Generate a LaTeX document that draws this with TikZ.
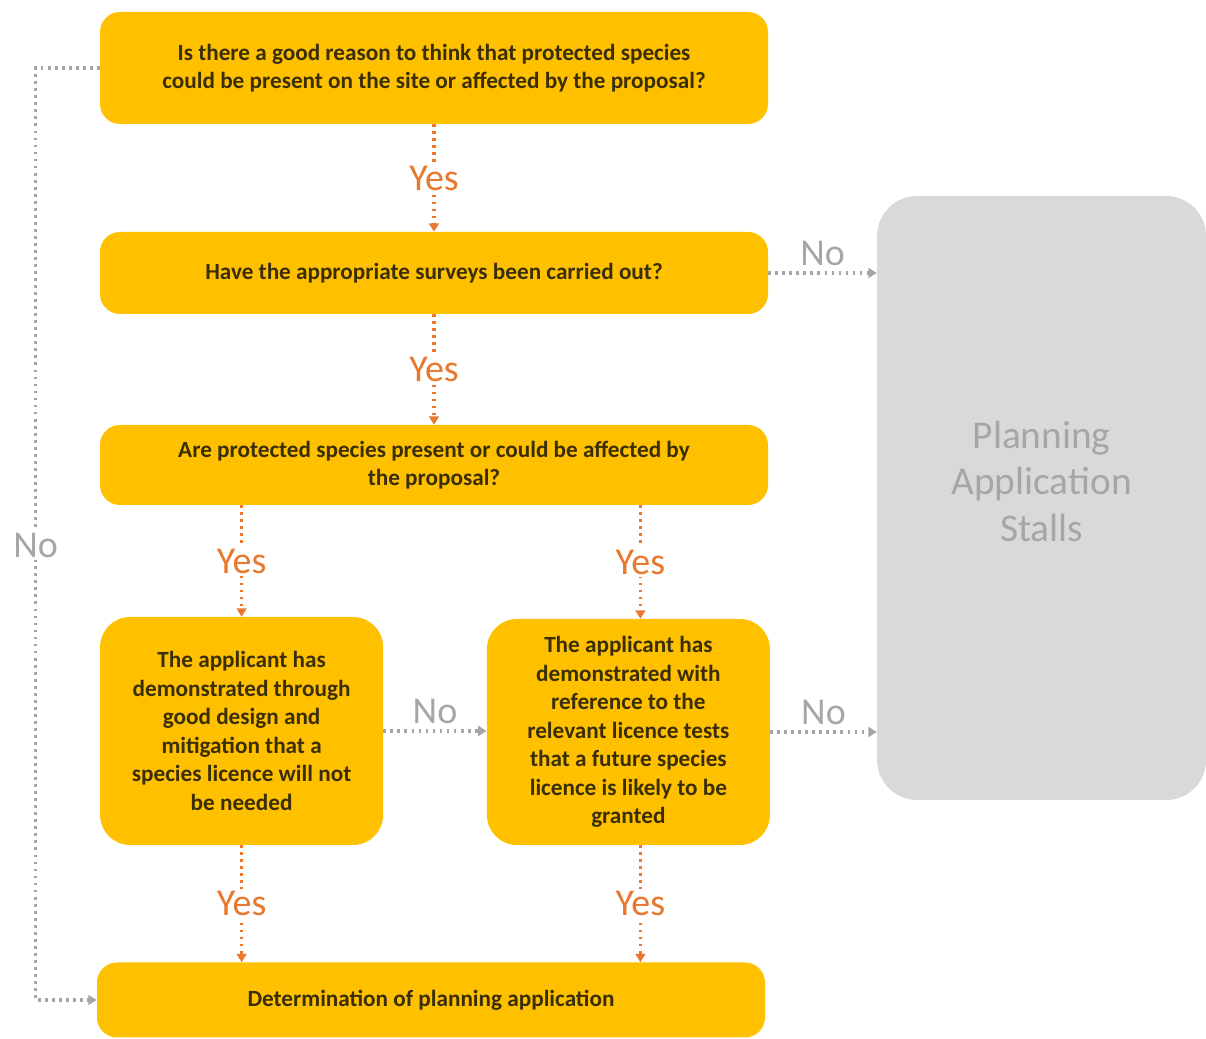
\documentclass[tikz,border=0pt]{standalone}
\usepackage{fontspec}
\setmainfont{Carlito}
\usetikzlibrary{arrows.meta}

\definecolor{boxgold}{HTML}{FFC000}
\definecolor{boxtext}{HTML}{3A2E05}
\definecolor{yesorange}{HTML}{E8782E}
\definecolor{nogray}{HTML}{A6A6A6}
\definecolor{stallgray}{HTML}{D9D9D9}

\tikzset{
  question/.style={fill=boxgold, rounded corners=0.5cm, align=center,
    text=boxtext, font=\fontsize{16.5}{20.3}\selectfont\bfseries, inner sep=0pt},
  yesline/.style={draw=yesorange, line width=2.4pt, dash pattern=on 2pt off 3pt,
    -{Triangle[length=6pt,width=7pt]}},
  noline/.style={draw=nogray, line width=2.4pt, dash pattern=on 2pt off 3pt,
    -{Triangle[length=6pt,width=7pt]}},
  yeslab/.style={fill=white, text=yesorange, font=\fontsize{27}{27}\selectfont, inner sep=2pt},
  nolab/.style={fill=white, text=nogray, font=\fontsize{27}{27}\selectfont, inner sep=2pt}
}

\begin{document}
\begin{tikzpicture}
  \useasboundingbox (0,0) rectangle (30.15,25.975);

  % question boxes
  \node[question, minimum width=16.7cm, minimum height=2.8cm] (reason) at (10.85,24.275)
    {Is there a good reason to think that protected species\\could be present on the site or affected by the proposal?};
  \node[question, minimum width=16.7cm, minimum height=2.05cm] (surveys) at (10.85,19.15)
    {Have the appropriate surveys been carried out?};
  \node[question, minimum width=16.7cm, minimum height=2.0cm] (present) at (10.85,14.35)
    {Are protected species present or could be affected by\\the proposal?};
  \node[question, rounded corners=0.75cm, minimum width=7.075cm, minimum height=5.7cm] (design) at (6.04,7.7)
    {The applicant has\\demonstrated through\\good design and\\mitigation that a\\species licence will not\\be needed};
  \node[question, rounded corners=0.75cm, minimum width=7.075cm, minimum height=5.65cm] (tests) at (15.71,7.675)
    {The applicant has\\demonstrated with\\reference to the\\relevant licence tests\\that a future species\\licence is likely to be\\granted};
  \node[question, minimum width=16.7cm, minimum height=1.875cm] (determine) at (10.775,0.975)
    {Determination of planning application};

  % stalled outcome
  \node[fill=stallgray, rounded corners=1cm, minimum width=8.225cm, minimum height=15.1cm] (stalls) at (26.04,13.525) {};
  \node[align=center, text=nogray, font=\fontsize{28}{33}\selectfont] (stallstext) at ([yshift=0.42cm]stalls.center)
    {Planning\\Application\\Stalls};

  % yes connectors
  \draw[yesline] (reason.south) -- node[yeslab] {Yes} (surveys.north);
  \draw[yesline] (surveys.south) -- node[yeslab] {Yes} (present.north);
  \draw[yesline] (present.south -| design.north) -- node[yeslab] {Yes} (design.north);
  \draw[yesline] ([xshift=0.3cm]present.south -| tests.north) -- node[yeslab] {Yes} ([xshift=0.3cm]tests.north);
  \draw[yesline] (design.south) -- node[yeslab] {Yes} (design.south |- determine.north);
  \draw[yesline] ([xshift=0.3cm]tests.south) -- node[yeslab] {Yes} ([xshift=0.3cm]tests.south |- determine.north);

  % no connectors
  \draw[noline] (surveys.east) -- node[nolab, above=2pt] {No} (surveys.east -| stalls.west);
  \draw[noline] (design.east) -- node[nolab, above=2pt] {No} (design.east -| tests.west);
  \draw[noline] (tests.east) -- node[nolab, above=2pt] {No} (tests.east -| stalls.west);
  \draw[noline] (reason.west) -- ++(-1.6,0) |- node[nolab, pos=0.256] {No} (determine.west);
\end{tikzpicture}
\end{document}
